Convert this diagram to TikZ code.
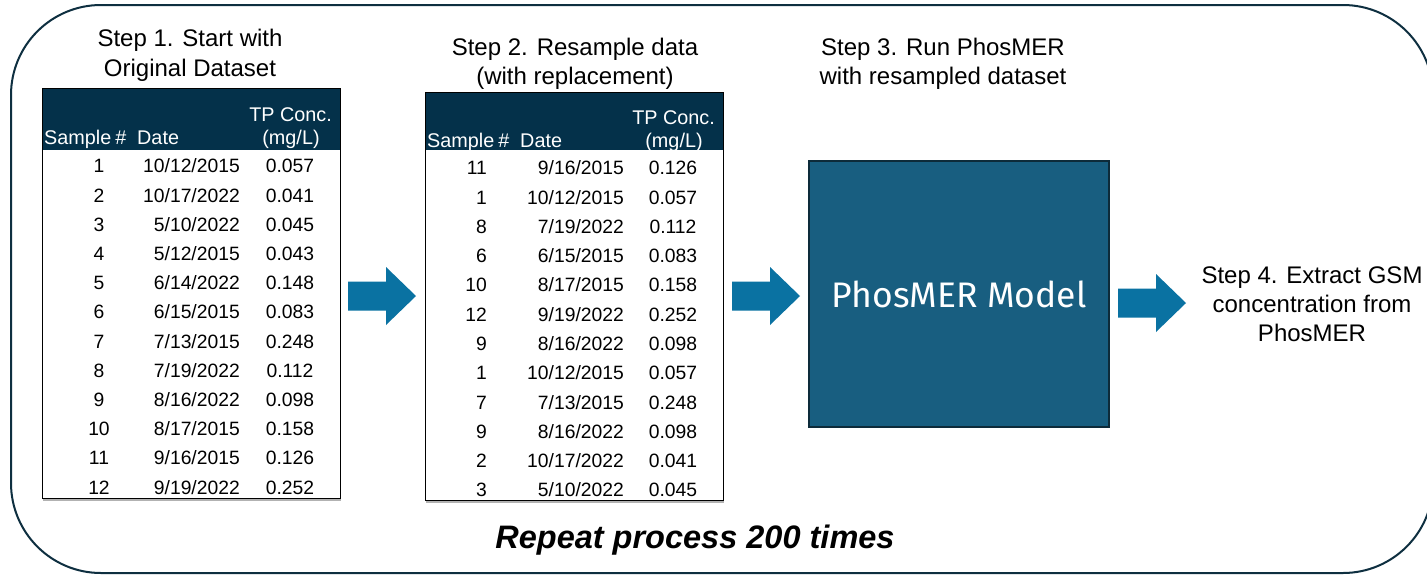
\documentclass[tikz,border=0pt]{standalone}
\usepackage{fontspec}
\setmainfont{Liberation Sans}
\newfontfamily\modelfont{Fira Sans}
\definecolor{hdr}{HTML}{04314A}
\definecolor{boxc}{HTML}{185E80}
\definecolor{boxb}{HTML}{0D2B3A}
\definecolor{arrc}{HTML}{0A72A2}
\definecolor{outc}{HTML}{0E2F40}
\tikzset{
  cell/.style={inner sep=0pt, font=\fontsize{19.3}{19.3}\selectfont, text height=13.8pt, text depth=0pt},
  hcell/.style={cell, text=white, font=\fontsize{19.8}{19.8}\selectfont, text height=14.2pt},
  title/.style={inner sep=0pt, font=\fontsize{24}{24}\selectfont, text height=17.2pt, text depth=0pt},
  tabframe/.style={draw=black, line width=0.8pt, fill=white},
  tabhead/.style={fill=hdr},
  pics/barrow/.style={code={\fill[arrc] (0,-14.5) -- (38,-14.5) -- (38,-29) -- (68,0) -- (38,29) -- (38,14.5) -- (0,14.5) -- cycle;}}
}
\newcommand\rowA[4]{%
  \node[cell] (a#1n) at (99,{166+29.2*(#1-1)}) {#2};
  \node[cell,anchor=east] (a#1d) at (240,{166+29.2*(#1-1)}) {#3};
  \node[cell] (a#1v) at (290,{166+29.2*(#1-1)}) {#4};}
\newcommand\rowB[4]{%
  \node[cell,anchor=east] (b#1n) at (487,{168+29.27*(#1-1)}) {#2};
  \node[cell,anchor=east] (b#1d) at (624,{168+29.27*(#1-1)}) {#3};
  \node[cell] (b#1v) at (673,{168+29.27*(#1-1)}) {#4};}
\begin{document}
\begin{tikzpicture}[x=1pt,y=-1pt]
\useasboundingbox (0,0) rectangle (1427,576);
\clip (0,0) rectangle (1427,576);
\fill[white] (0,0) rectangle (1427,576);
% outer frame
\draw[outc, line width=2pt, rounded corners=90pt] (11,5) rectangle (1433,573);

% titles
\node[title] (s1a) at (190,38) {Step 1. Start with};
\node[title] (s1b) at (190,67.5) {Original Dataset};
\node[title] (s2a) at (575,47) {Step 2. Resample data};
\node[title] (s2b) at (575,76) {(with replacement)};
\node[title] (s3a) at (943,47) {Step 3. Run PhosMER};
\node[title] (s3b) at (943,76) {with resampled dataset};
\node[title] (s4a) at (1312,275) {Step 4. Extract GSM};
\node[title] (s4b) at (1312,304) {concentration from};
\node[title] (s4c) at (1312,333) {PhosMER};

% table 1
\draw[gray!60, line width=1.2pt] (43,500) -- (341,500);
\path[tabframe] (42,88) rectangle (340,498);
\path[tabhead] (42,88) rectangle (340,150);
\draw[black, line width=0.8pt] (42,88) rectangle (340,498);
\node[hcell,anchor=east] (a-tp) at (332,114) {TP Conc.};
\node[hcell] (a-mg) at (291,137) {(mg/L)};
\node[hcell,anchor=west] (a-sn) at (44,137) {Sample\kern4pt\#};
\node[hcell,anchor=west] (a-dt) at (137,137) {Date};
\rowA{1}{1}{10/12/2015}{0.057}
\rowA{2}{2}{10/17/2022}{0.041}
\rowA{3}{3}{5/10/2022}{0.045}
\rowA{4}{4}{5/12/2015}{0.043}
\rowA{5}{5}{6/14/2022}{0.148}
\rowA{6}{6}{6/15/2015}{0.083}
\rowA{7}{7}{7/13/2015}{0.248}
\rowA{8}{8}{7/19/2022}{0.112}
\rowA{9}{9}{8/16/2022}{0.098}
\rowA{10}{10}{8/17/2015}{0.158}
\rowA{11}{11}{9/16/2015}{0.126}
\rowA{12}{12}{9/19/2022}{0.252}

% table 2
\draw[gray!60, line width=1.2pt] (426,502) -- (724,502);
\path[tabframe] (425,92) rectangle (723,500);
\path[tabhead] (425,92) rectangle (723,150);
\draw[black, line width=0.8pt] (425,92) rectangle (723,500);
\node[hcell,anchor=east] (b-tp) at (715,117) {TP Conc.};
\node[hcell] (b-mg) at (674,140) {(mg/L)};
\node[hcell,anchor=west] (b-sn) at (427,140) {Sample\kern4pt\#};
\node[hcell,anchor=west] (b-dt) at (520,140) {Date};
\rowB{1}{11}{9/16/2015}{0.126}
\rowB{2}{1}{10/12/2015}{0.057}
\rowB{3}{8}{7/19/2022}{0.112}
\rowB{4}{6}{6/15/2015}{0.083}
\rowB{5}{10}{8/17/2015}{0.158}
\rowB{6}{12}{9/19/2022}{0.252}
\rowB{7}{9}{8/16/2022}{0.098}
\rowB{8}{1}{10/12/2015}{0.057}
\rowB{9}{7}{7/13/2015}{0.248}
\rowB{10}{9}{8/16/2022}{0.098}
\rowB{11}{2}{10/17/2022}{0.041}
\rowB{12}{3}{5/10/2022}{0.045}

% model box
\node[draw=boxb, line width=1.5pt, fill=boxc, minimum width=300pt, minimum height=266pt, inner sep=0pt,
      text=white, font=\modelfont\fontsize{35.5}{35.5}\selectfont] (model) at (959,294) {PhosMER Model};

% block arrows
\coordinate (ar1) at (348,296);
\coordinate (ar2) at (732,296);
\coordinate (ar3) at (1118,303);
\pic at (ar1) {barrow};
\pic at (ar2) {barrow};
\pic at (ar3) {barrow};

% repeat text
\node[inner sep=0pt, font=\bfseries\itshape\fontsize{32.5}{32.5}\selectfont, text height=23pt, text depth=0pt] (rep) at (695,537) {Repeat process 200 times};
\end{tikzpicture}
\end{document}
